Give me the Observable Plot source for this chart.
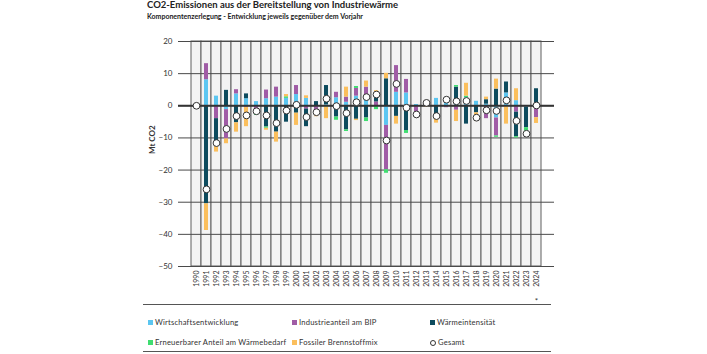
<!DOCTYPE html>
<html><head><meta charset="utf-8">
<script src="https://cdn.jsdelivr.net/npm/d3@7"></script>
<script src="https://cdn.jsdelivr.net/npm/@observablehq/plot@0.6"></script>
<style>
body{margin:0;background:#fff;font-family:Lato,"Open Sans",sans-serif;color:#222}
#wrap{position:relative;width:707px;height:354px;overflow:hidden}
#chart{position:absolute;left:0;top:0}
.t{position:absolute;white-space:nowrap;line-height:1}
#title{left:147px;top:0px;font-size:9.5px;font-weight:bold}
#sub{left:147px;top:12.5px;font-size:7px;font-weight:bold}
.hr{position:absolute;left:143px;width:408px;height:0;border-top:1.5px solid #555}
.leg{position:absolute;font-size:7.6px;line-height:1;white-space:nowrap;color:#333;letter-spacing:0.2px}
.sw{display:inline-block;width:5px;height:5px;margin-right:2px;vertical-align:0px}
.circ{display:inline-block;border:1px solid #333;border-radius:50%;margin-right:2px;vertical-align:-1px;box-sizing:border-box;width:6px;height:6px}
</style></head><body>
<div id="wrap">
<div id="chart"></div>
</div>
<script>
const titleText = "CO2-Emissionen aus der Bereitstellung von Industriewärme";
const subtitleText = "Komponentenzerlegung  - Entwicklung jeweils gegenüber dem Vorjahr";
const yLabel = "Mt CO2";
const years = ["1990","1991","1992","1993","1994","1995","1996","1997","1998","1999","2000","2001","2002","2003","2004","2005","2006","2007","2008","2009","2010","2011","2012","2013","2014","2015","2016","2017","2018","2019","2020","2021","2022","2023","2024"];
const series = ["Wirtschaftsentwicklung","Industrieanteil am BIP","Wärmeintensität","Erneuerbarer Anteil am Wärmebedarf","Fossiler Brennstoffmix"];
const totalLabel = "Gesamt";
const colors = ["#5bc6f1","#a05ca6","#0d4b5e","#3fdd70","#fbbf5d"];
const wirtschaft = [0,8.1,3.0,-1.2,3.7,2.2,1.3,2.2,2.7,2.3,3.5,2.3,-0.3,0.3,2.5,1.1,3.0,3.2,0,-6.1,4.2,4.0,0.4,0.5,2.3,1.5,1.0,2.5,1.4,0.5,-3.8,4.0,1.6,-0.4,-0.2];
const industrie = [0,5.0,-4.0,-9.1,1.3,-0.5,-1.2,2.7,3.1,0,2.8,-1.0,-2.8,0,1.7,1.6,2.4,2.6,1.2,-13.8,8.3,4.2,-2.2,0,0,-0.6,-1.4,0,0,-4.0,-5.6,0,-2.0,0,-3.5];
const waerme = [0,-30.5,-7.8,4.8,-5.3,1.5,-1.5,-6.6,-8.2,-5.1,-2.3,-5.5,1.3,6.0,-3.5,-7.5,-4.2,-3.8,1.5,8.4,-3.3,-7.7,-0.5,0.3,-4.0,1.0,4.8,-5.7,-2.2,1.4,5.2,3.4,-7.6,-6.4,5.3];
const erneuerbar = [0,0,0,0,0,0,-0.3,-0.4,0,0.5,0,0,0,-0.4,-1.0,-0.5,0.6,-1.1,-1.2,-1.1,0,-0.9,0,0.5,0,0,0.5,0.5,0,0,-0.4,0,-0.4,-2.0,0];
const fossil = [0,-8.3,-2.6,-1.5,-2.9,-6.0,0,-0.6,-3.1,0.7,-3.8,0.8,-0.3,-3.6,0,3.1,-0.4,1.9,2.0,1.7,-2.4,0,-0.4,-0.5,-1.4,0,-3.5,4.0,-2.7,0.8,3.1,-5.7,3.7,0,-1.8];
const gesamt = [0,-26.0,-11.6,-7.2,-3.2,-3.0,-1.7,-3.0,-5.4,-1.5,0.3,-3.5,-2.0,2.2,-0.1,-2.3,1.1,2.7,3.5,-10.8,6.8,-0.6,-2.7,0.9,-3.2,1.9,1.4,1.5,-3.7,-1.4,-1.6,1.7,-4.7,-8.7,0.1];
const yDomain = [-50,20];
const yTicks = [-50,-40,-30,-20,-10,0,10,20];
const notes = [{year:"2024", text:"*"}];

const seriesVals = [wirtschaft, industrie, waerme, erneuerbar, fossil];
const rows = [];
years.forEach((yr,i)=>seriesVals.forEach((arr,k)=>rows.push({year:yr, series:series[k], value:arr[i]})));
const tot = years.map((yr,i)=>({year:yr, value:gesamt[i]}));

const plot = Plot.plot({
  width:707, height:354,
  marginLeft:178, marginRight:153, marginTop:41, marginBottom:88,
  style:{fontFamily:"Lato, 'Open Sans', sans-serif", background:"transparent", color:"#333"},
  x:{domain:years, padding:0},
  y:{domain:yDomain},
  color:{domain:series, range:colors},
  marks:[
    Plot.barY(years, {x:d=>d, y1:yDomain[0], y2:yDomain[1], fill:"#f3f3f3", stroke:"#5e5e5e", strokeWidth:1}),
    Plot.ruleY(yTicks, {stroke:"#4a4a4a", strokeWidth:1}),
    Plot.barY(rows, {x:"year", y:"value", fill:"series", insetLeft:3, insetRight:3}),
    Plot.ruleY([0], {stroke:"#333", strokeWidth:2}),
    Plot.dot(tot, {x:"year", y:"value", r:3.4, fill:"white", stroke:"#333", strokeWidth:1}),
    Plot.axisY({ticks:yTicks, tickSize:0, tickPadding:6, fontSize:8, label:null}),
    Plot.axisX({tickRotate:-90, tickSize:0, tickPadding:4, fontSize:7, label:null}),
    Plot.text([yLabel], {text:d=>d, frameAnchor:"left", rotate:-90, dx:-26, fontWeight:"bold", fontSize:8}),
    Plot.text(notes, {x:"year", text:"text", frameAnchor:"bottom", dy:37, fontSize:8})
  ]
});
document.getElementById("chart").appendChild(plot);

const wrap = document.getElementById("wrap");
function add(cls, id, text){const d=document.createElement("div");d.className=cls;if(id)d.id=id;d.textContent=text;wrap.appendChild(d);return d;}
add("t","title",titleText);
add("t","sub",subtitleText);
const h1=document.createElement("div");h1.className="hr";h1.style.top="304px";wrap.appendChild(h1);
const h2=document.createElement("div");h2.className="hr";h2.style.top="351px";wrap.appendChild(h2);
const legPos = [[148,319],[292,319],[430,319],[148,339],[292,339]];
series.forEach((s,k)=>{
  const d=document.createElement("div");d.className="leg";d.style.left=legPos[k][0]+"px";d.style.top=legPos[k][1]+"px";
  const sw=document.createElement("span");sw.className="sw";sw.style.background=colors[k];
  d.appendChild(sw);d.appendChild(document.createTextNode(s));wrap.appendChild(d);
});
{
  const d=document.createElement("div");d.className="leg";d.style.left="430px";d.style.top="339px";
  const c=document.createElement("span");c.className="circ";d.appendChild(c);d.appendChild(document.createTextNode(totalLabel));wrap.appendChild(d);
}
</script>
</body></html>
